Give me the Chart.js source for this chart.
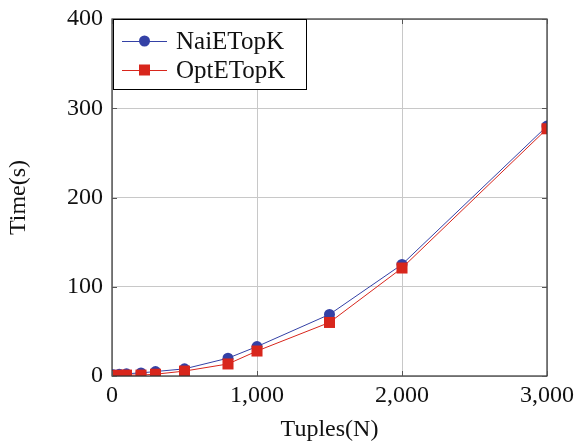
<!DOCTYPE html>
<html><head><meta charset="utf-8">
<script src="https://cdn.jsdelivr.net/npm/chart.js@4/dist/chart.umd.min.js"></script>
<style>html,body{margin:0;padding:0;background:#fff}#w{width:575px;height:448px}</style>
</head><body><div id="w"><canvas id="c" width="575" height="448"></canvas></div>
<script>
const tuples = [10, 50, 100, 200, 300, 500, 800, 1000, 1500, 2000, 3000];
const naiETopK = [1.5, 2, 2.5, 3.5, 5, 8, 20, 33, 69, 125, 280];
const optETopK = [0.5, 0.8, 1, 1, 2, 5.5, 13.5, 28, 60, 121, 277];
const seriesNames = ['NaiETopK', 'OptETopK'];
const xTicks = [0, 1000, 2000, 3000];
const yTicks = [0, 100, 200, 300, 400];

const FONT = "'Liberation Serif', 'DejaVu Serif', serif";
const BLUE = '#3441a6';
const RED = '#d8261c';

const legendPlugin = {
  id: 'boxLegend',
  afterDraw(chart) {
    const ctx = chart.ctx, a = chart.chartArea;
    const x0 = a.left + 1, y0 = a.top, w = 193, h = 70;
    ctx.save();
    ctx.fillStyle = '#fff';
    ctx.fillRect(x0, y0, w, h);
    ctx.strokeStyle = '#000'; ctx.lineWidth = 1;
    ctx.strokeRect(x0 + 0.5, y0 + 0.5, w, h);
    const rows = [
      {label: seriesNames[0], color: BLUE, shape: 'circle', y: y0 + 22},
      {label: seriesNames[1], color: RED, shape: 'rect', y: y0 + 51}
    ];
    rows.forEach(r => {
      ctx.strokeStyle = r.color; ctx.lineWidth = 1;
      ctx.beginPath(); ctx.moveTo(x0 + 9, r.y + 0.5); ctx.lineTo(x0 + 54, r.y + 0.5); ctx.stroke();
      ctx.fillStyle = r.color;
      if (r.shape === 'circle') { ctx.beginPath(); ctx.arc(x0 + 31.5, r.y, 5.5, 0, Math.PI*2); ctx.fill(); }
      else { ctx.fillRect(x0 + 26, r.y - 5.5, 11, 11); }
      ctx.fillStyle = '#111';
      ctx.font = "25px " + FONT;
      ctx.textBaseline = 'middle'; ctx.textAlign = 'left';
      ctx.fillText(r.label, x0 + 63, r.y + 1);
    });
    ctx.restore();
  }
};

const borderPlugin = {
  id: 'frame',
  afterDatasetsDraw(chart) {
    const ctx = chart.ctx, a = chart.chartArea;
    ctx.save();
    ctx.strokeStyle = '#333'; ctx.lineWidth = 1.2;
    ctx.strokeRect(a.left, a.top, a.right - a.left, a.bottom - a.top);
    ctx.strokeStyle = '#555'; ctx.lineWidth = 1;
    const xs = chart.scales.x, ys = chart.scales.y;
    xTicks.forEach(v => { const p = Math.round(xs.getPixelForValue(v)) + 0.5;
      ctx.beginPath(); ctx.moveTo(p, a.bottom); ctx.lineTo(p, a.bottom - 5); ctx.moveTo(p, a.top); ctx.lineTo(p, a.top + 5); ctx.stroke(); });
    yTicks.forEach(v => { const p = Math.round(ys.getPixelForValue(v)) + 0.5;
      ctx.beginPath(); ctx.moveTo(a.left, p); ctx.lineTo(a.left + 5, p); ctx.moveTo(a.right, p); ctx.lineTo(a.right - 5, p); ctx.stroke(); });
    ctx.restore();
  }
};

new Chart(document.getElementById('c'), {
  type: 'line',
  data: {
    datasets: [
      {label: seriesNames[0], data: tuples.map((x, i) => ({x, y: naiETopK[i]})),
       borderColor: BLUE, backgroundColor: BLUE, borderWidth: 1, pointStyle: 'circle', pointRadius: 5.5,
       pointBorderWidth: 0, order: 2, tension: 0},
      {label: seriesNames[1], data: tuples.map((x, i) => ({x, y: optETopK[i]})),
       borderColor: RED, backgroundColor: RED, borderWidth: 1, pointStyle: 'rect', pointRadius: 7.8,
       pointBorderWidth: 0, order: 1, tension: 0}
    ]
  },
  options: {
    responsive: false, animation: false, devicePixelRatio: 1,
    layout: {padding: {top: 19, right: 28, left: 0, bottom: 0}},
    plugins: {legend: {display: false}, tooltip: {enabled: false}},
    scales: {
      x: {type: 'linear', min: 0, max: 3000,
          afterBuildTicks: s => { s.ticks = xTicks.map(v => ({value: v})); },
          afterFit: s => { s.height = 72; s.paddingLeft = 0; s.paddingRight = 0; },
          grid: {color: '#c8c8c8', drawTicks: false, lineWidth: 1},
          border: {display: false},
          ticks: {font: {family: FONT, size: 24}, color: '#111', padding: 5, maxRotation: 0,
                  callback: v => v.toLocaleString('en-US')},
          title: {display: true, text: 'Tuples(N)', font: {family: FONT, size: 24}, color: '#111', padding: {top: 8}}},
      y: {type: 'linear', min: 0, max: 400,
          afterBuildTicks: s => { s.ticks = yTicks.map(v => ({value: v})); },
          afterFit: s => { s.width = 112; s.paddingTop = 0; s.paddingBottom = 0; },
          grid: {color: '#c8c8c8', drawTicks: false, lineWidth: 1},
          border: {display: false},
          ticks: {font: {family: FONT, size: 24}, color: '#111', padding: 9},
          title: {display: true, text: 'Time(s)', font: {family: FONT, size: 24}, color: '#111', padding: {bottom: 4}}}
    }
  },
  plugins: [borderPlugin, legendPlugin]
});
</script></body></html>
